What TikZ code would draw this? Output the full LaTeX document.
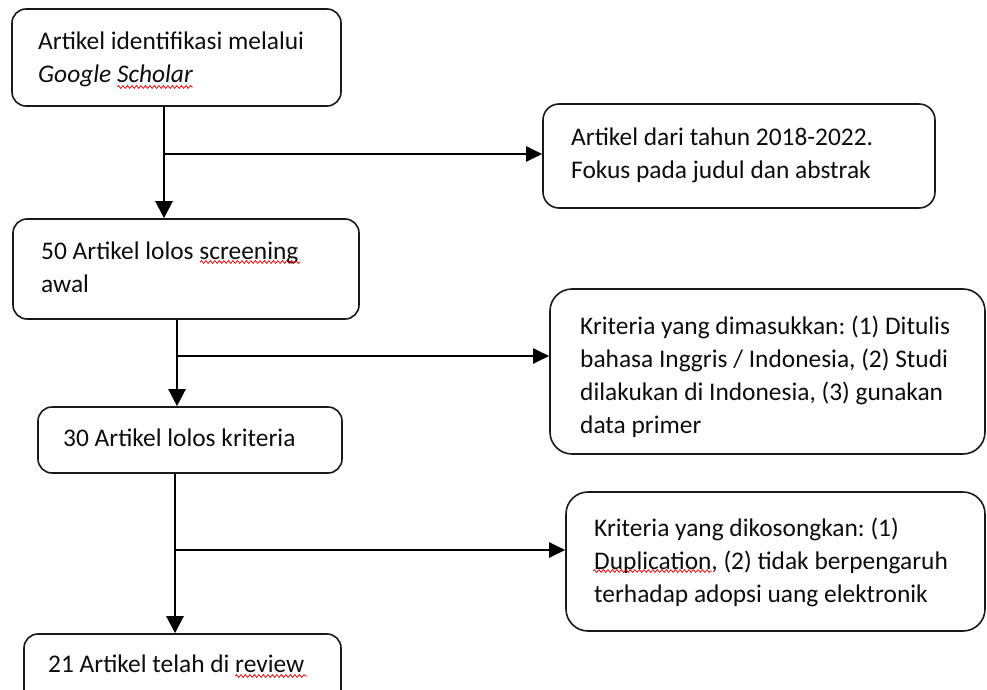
\documentclass[tikz,border=0pt]{standalone}
\usepackage{fontspec}
\setmainfont{Carlito}
\frenchspacing
\usetikzlibrary{arrows.meta,decorations.pathmorphing}
\tikzset{
  box/.style={draw=black!90, line width=1.6pt, rounded corners=14pt, inner sep=0pt, anchor=center},
  txt/.style={anchor=base west, align=left, inner sep=0pt, text=black!95, font=\fontsize{25.4}{33}\selectfont},
  arr/.style={line width=2.3pt, -{Triangle[length=17pt,width=17pt]}},
  harr/.style={line width=2pt, -{Triangle[length=16pt,width=15pt]}},
  squig/.style={draw=red!85!black, line width=0.7pt, decorate, decoration={snake, segment length=4.5pt, amplitude=1.4pt}}
}
\begin{document}
\begin{tikzpicture}[x=1pt,y=-1pt]
\useasboundingbox (0,0) rectangle (987,690);
% boxes
\node[box, minimum width=329pt, minimum height=97pt] (b1) at (176.5,57.5) {};
\node[box, minimum width=392pt, minimum height=104pt, rounded corners=16pt] (b2) at (739,156) {};
\node[box, minimum width=346pt, minimum height=100pt] (b3) at (186,269) {};
\node[box, minimum width=435pt, minimum height=165pt, rounded corners=22pt] (b4) at (767.5,371.5) {};
\node[box, minimum width=304pt, minimum height=66pt] (b5) at (190,440) {};
\node[box, minimum width=419pt, minimum height=139pt, rounded corners=22pt] (b6) at (775.5,561.5) {};
\node[box, minimum width=317pt, minimum height=76pt] (b7) at (182.5,672) {};
% texts (anchored at the baseline of their last line)
\node[txt] (t1) at (38,83) {Artikel identifikasi melalui\\\textit{Google Scholar}};
\node[txt] (t2) at (571,178) {Artikel dari tahun 2018-2022.\\Fokus pada judul dan abstrak};
\node[txt] (t3) at (41,292) {50 Artikel lolos screening\\awal};
\node[txt] (t4) at (580,433) {Kriteria yang dimasukkan: (1) Ditulis\\bahasa Inggris / Indonesia, (2) Studi\\dilakukan di Indonesia, (3) gunakan\\data primer};
\node[txt] (t5) at (63,446) {30 Artikel lolos kriteria};
\node[txt] (t6) at (594,602) {Kriteria yang dikosongkan: (1)\\Duplication, (2) tidak berpengaruh\\terhadap adopsi uang elektronik};
\node[txt] (t7) at (48,672) {21 Artikel telah di review};
% spell-check squiggles
\draw[squig] (117,87) -- (193,87);
\draw[squig] (200,262) -- (300,262);
\draw[squig] (235,676) -- (307,676);
\draw[squig] (593,571) -- (712,571);
% arrow axes
\coordinate (x1) at (164,154);
\coordinate (x2) at (177,356);
\coordinate (x3) at (175,550);
% connectors
\draw[arr] (b1.south -| x1) -- (b3.north -| x1);
\draw[harr] (x1) -- (x1 -| b2.west);
\draw[arr] (b3.south -| x2) -- (b5.north -| x2);
\draw[harr] (x2) -- (x2 -| b4.west);
\draw[arr] (b5.south -| x3) -- (b7.north -| x3);
\draw[harr] (x3) -- (x3 -| b6.west);
\end{tikzpicture}
\end{document}
